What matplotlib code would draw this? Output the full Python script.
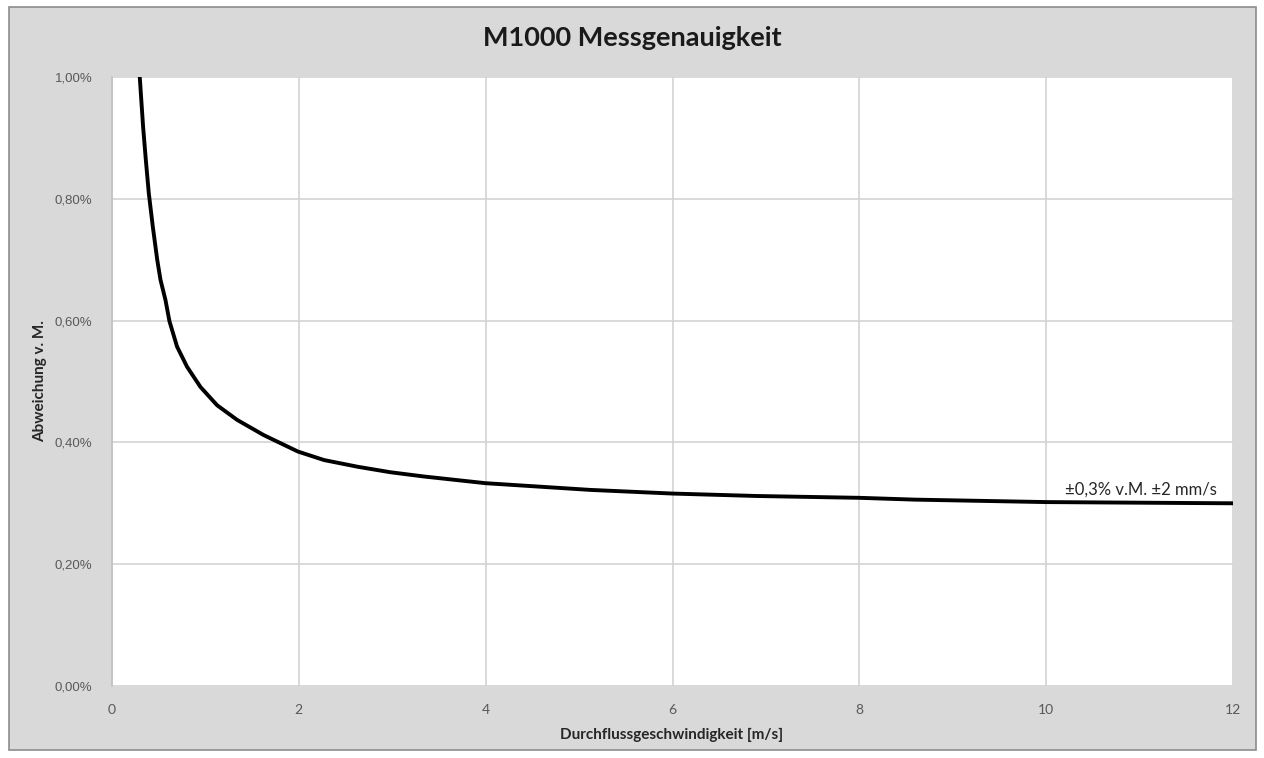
"""M1000 Messgenauigkeit - deviation vs. flow velocity."""

import matplotlib

matplotlib.use("Agg")

import matplotlib.pyplot as plt  # noqa: E402
from matplotlib.patches import Rectangle  # noqa: E402
from matplotlib.ticker import FuncFormatter, MultipleLocator  # noqa: E402

# values (m/s, % of reading)
velocity = [0.297, 0.333, 0.362, 0.394, 0.437, 0.484, 0.519, 0.572, 0.615, 0.697,
            0.804, 0.947, 1.125, 1.339, 1.624, 1.99, 2.27, 2.63, 2.98, 3.34,
            4.0, 5.12, 6.0, 6.9, 8.0, 8.6, 10.0, 12.0]
deviation = [1.00, 0.918, 0.864, 0.809, 0.754, 0.700, 0.667, 0.634, 0.599, 0.557,
             0.524, 0.491, 0.461, 0.437, 0.412, 0.385, 0.371, 0.360, 0.351, 0.344,
             0.333, 0.322, 0.316, 0.312, 0.309, 0.306, 0.302, 0.300]

TITLE = "M1000 Messgenauigkeit"
X_LABEL = "Durchflussgeschwindigkeit [m/s]"
Y_LABEL = "Abweichung v. M."
NOTE = "±0,3% v.M. ±2 mm/s"

W, H = 1264, 758
GRAY_BG = "#D9D9D9"
GRID = "#D0D0D0"
TICK_COLOR = "#595959"

fig = plt.figure(figsize=(W / 100, H / 100), dpi=100, facecolor="white")

# chart area (grey box with border), behind the axes
fig.patches.append(
    Rectangle((9 / W, 1 - 750 / H), (1256 - 9) / W, (750 - 7) / H,
              transform=fig.transFigure, facecolor=GRAY_BG, edgecolor="#8C8C8C",
              linewidth=1.2, zorder=-1)
)

ax = fig.add_axes([112 / W, 1 - 686 / H, (1233 - 112) / W, (686 - 77) / H])
ax.set_zorder(1)
ax.set_facecolor("white")

ax.plot(velocity, deviation, color="black", linewidth=2.8, solid_joinstyle="round",
        zorder=3)

ax.set_xlim(0, 12)
ax.set_ylim(0, 1.0)
ax.xaxis.set_major_locator(MultipleLocator(2))
ax.yaxis.set_major_locator(MultipleLocator(0.2))
ax.yaxis.set_major_formatter(FuncFormatter(lambda v, _: f"{v:.2f}%".replace(".", ",")))

ax.grid(True, color=GRID, linewidth=1.1)
ax.set_axisbelow(True)
for side in ("top", "right", "bottom"):
    ax.spines[side].set_visible(False)
ax.spines["left"].set_color("#BFBFBF")
ax.spines["left"].set_linewidth(1.1)
ax.tick_params(length=0)
ax.tick_params(axis="y", pad=14, labelsize=9.5, labelcolor=TICK_COLOR)
ax.tick_params(axis="x", pad=13, labelsize=10, labelcolor=TICK_COLOR)
for lbl in ax.get_yticklabels():
    lbl.set_family("Liberation Sans")
for lbl in ax.get_xticklabels():
    lbl.set_family("Lato")

fig.text(0.5, 1 - 38 / H, TITLE, ha="center", va="center", fontsize=19.5,
         fontweight="bold", family="Lato", color="#1A1A1A")
fig.text(672 / W, 1 - 735 / H, X_LABEL, ha="center", va="center", fontsize=11,
         fontweight="bold", family="Lato", color="#262626")
fig.text(40 / W, 1 - 381 / H, Y_LABEL, ha="center", va="center", rotation=90,
         fontsize=11, fontweight="bold", family="Lato", color="#262626")

ax.text(11.83, 0.31, NOTE, ha="right", va="bottom", fontsize=12,
        family="Lato", color="#262626")

fig.savefig("out.png", dpi=100, facecolor=fig.get_facecolor())
